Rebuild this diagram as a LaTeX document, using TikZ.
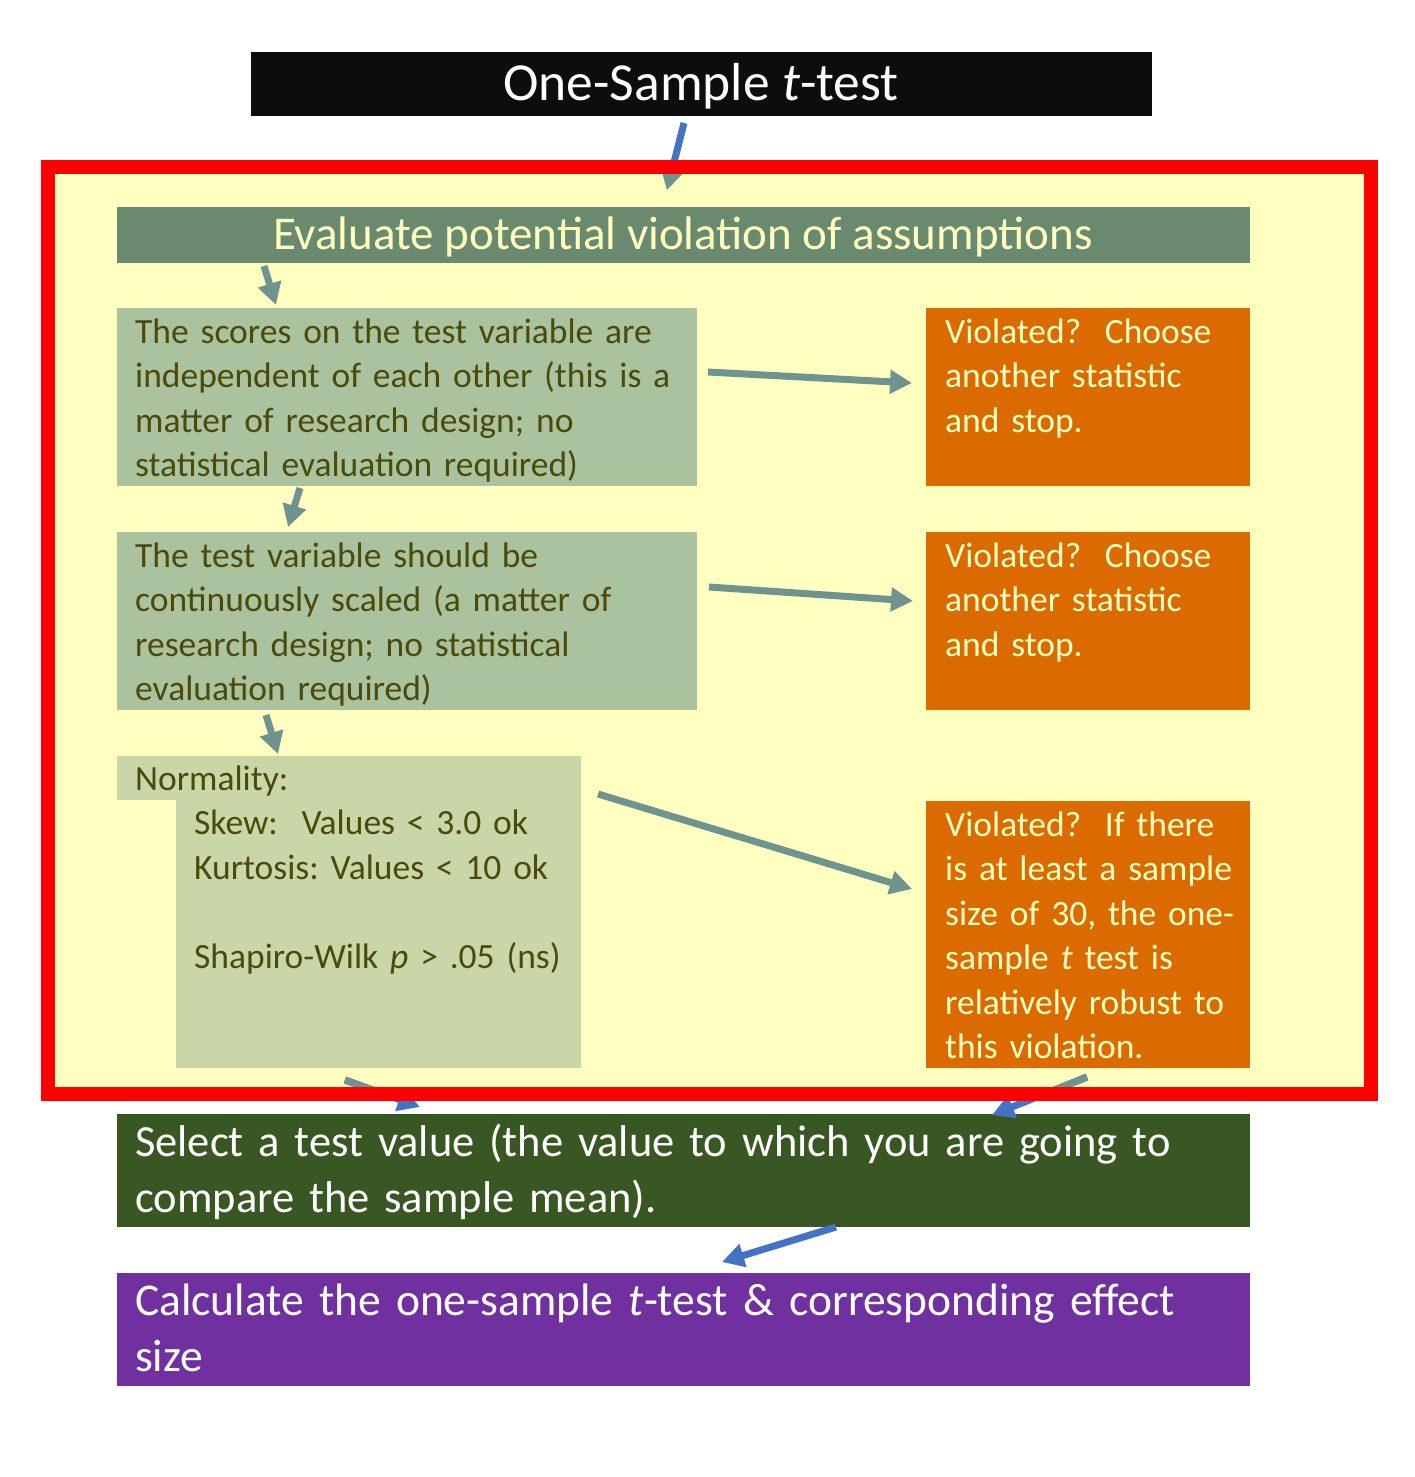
\documentclass[tikz,border=0pt]{standalone}
\usepackage{fontspec}
\setmainfont{Carlito}
\usetikzlibrary{arrows.meta}
\definecolor{cblack}{HTML}{0D0D0D}
\definecolor{cred}{HTML}{FF0000}
\definecolor{cyel}{HTML}{FFFFC0}
\definecolor{chead}{HTML}{698A6E}
\definecolor{cbox}{HTML}{ABC29F}
\definecolor{cnorm}{HTML}{C9D6A8}
\definecolor{ctext}{HTML}{4A4A0A}
\definecolor{corange}{HTML}{DB6B00}
\definecolor{cgray}{HTML}{6F9490}
\definecolor{cblue}{HTML}{4472C4}
\definecolor{cgreen}{HTML}{385723}
\definecolor{cpurple}{HTML}{7030A0}
\newcommand{\bodyfont}{\fontsize{35.5}{44.5}\selectfont\frenchspacing}
\newcommand{\selfont}{\fontsize{44.5}{56}\selectfont\frenchspacing}
\newcommand{\calcfont}{\fontsize{45.5}{56}\selectfont\frenchspacing}
\tikzset{
  panel/.style={draw=none, inner sep=0pt, anchor=north west},
  txt/.style={inner sep=0pt, anchor=base west, align=left, text width=#1},
  body/.style={font=\bodyfont},
  conn/.style={line width=7pt, -{Triangle[width=23pt,length=22pt]}},
}
\newcommand{\twoarrow}[2]{%
  \draw[conn, cblue] (#1) -- (#2);
  \begin{scope}
    \clip (55,174) rectangle (1364,1087);
    \draw[conn, cgray] (#1) -- (#2);
  \end{scope}}
\begin{document}
\begin{tikzpicture}[x=1pt, y=-1pt]
\useasboundingbox[fill=white] (0,0) rectangle (1415,1477);
% yellow region
\fill[cyel] (48,167) rectangle (1371,1094);
% boxes
\node[panel, fill=cblack, minimum width=901pt, minimum height=64pt] (title) at (251,52) {};
\node[panel, fill=chead, minimum width=1133pt, minimum height=56pt] (head) at (117,207) {};
\node[panel, fill=cbox, minimum width=580pt, minimum height=178pt] (b1) at (117,308) {};
\node[panel, fill=cbox, minimum width=580pt, minimum height=178pt] (b2) at (117,532) {};
\node[panel, fill=cnorm, minimum width=464pt, minimum height=44pt] (ntab) at (117,756) {};
\node[panel, fill=cnorm, minimum width=405pt, minimum height=268pt] (nbody) at (176,800) {};
\node[panel, fill=corange, minimum width=324pt, minimum height=178pt] (o1) at (926,308) {};
\node[panel, fill=corange, minimum width=324pt, minimum height=178pt] (o2) at (926,532) {};
\node[panel, fill=corange, minimum width=324pt, minimum height=267pt] (o3) at (926,801) {};
\node[panel, fill=cgreen, minimum width=1133pt, minimum height=113pt] (sel) at (117,1114) {};
\node[panel, fill=cpurple, minimum width=1133pt, minimum height=113pt] (calc) at (117,1273) {};
% texts
\node[inner sep=0pt, anchor=base, text=white, font=\fontsize{53.5}{60}\selectfont] (titlet) at (701,101) {One-Sample \textit{t}-test};
\node[inner sep=0pt, anchor=base, text=cyel, font=\fontsize{47}{54}\selectfont] (headt) at (683,249) {Evaluate potential violation of assumptions};
\node[txt=560pt, body, text=ctext] (b1t) at (135,343) {The scores on the test variable are\\independent of each other (this is a\\matter of research design; no\\statistical evaluation required)};
\node[txt=560pt, body, text=ctext] (b2t) at (135,567) {The test variable should be\\continuously scaled (a matter of\\research design; no statistical\\evaluation required)};
\node[txt=560pt, body, text=ctext] (nt) at (135,790) {Normality:\\\hspace*{59pt}Skew:~ Values < 3.0 ok\\\hspace*{59pt}Kurtosis: Values < 10 ok\\[44.5pt]\hspace*{59pt}Shapiro-Wilk \textit{p} > .05 (ns)};
\node[txt=320pt, body, text=cyel] (o1t) at (945,343) {Violated?~ Choose\\another statistic\\and stop.};
\node[txt=320pt, body, text=cyel] (o2t) at (945,567) {Violated?~ Choose\\another statistic\\and stop.};
\node[txt=320pt, body, text=cyel] (o3t) at (945,836) {Violated?~ If there\\is at least a sample\\size of 30, the one-\\sample \textit{t} test is\\relatively robust to\\this violation.};
\node[txt=1125pt, font=\selfont, text=white] (selt) at (135,1156) {Select a test value (the value to which you are going to\\compare the sample mean).};
\node[txt=1125pt, font=\calcfont, text=white] (calct) at (135,1315) {Calculate the one-sample \textit{t}-test \& corresponding effect\\size};
% connector end points
\coordinate (a1s) at (684,123); \coordinate (a1e) at (667,190);
\coordinate (a2s) at (264,266); \coordinate (a2e) at (276,305);
\coordinate (a3s) at (300,488); \coordinate (a3e) at (288,527);
\coordinate (a4s) at (266,715); \coordinate (a4e) at (278,754);
\coordinate (a5s) at (708,372); \coordinate (a5e) at (912,383);
\coordinate (a6s) at (709,587); \coordinate (a6e) at (913,601);
\coordinate (a7s) at (598,794); \coordinate (a7e) at (912,889);
\coordinate (a8s) at (345,1080); \coordinate (a8e) at (420,1107);
\coordinate (a9s) at (1087,1077); \coordinate (a9e) at (992,1115);
\coordinate (a10s) at (836,1227); \coordinate (a10e) at (722,1262);
\twoarrow{a1s}{a1e}
\draw[conn, cgray] (a2s) -- (a2e);
\draw[conn, cgray] (a3s) -- (a3e);
\draw[conn, cgray] (a4s) -- (a4e);
\draw[conn, cgray] (a5s) -- (a5e);
\draw[conn, cgray] (a6s) -- (a6e);
\draw[conn, cgray] (a7s) -- (a7e);
\twoarrow{a8s}{a8e}
\twoarrow{a9s}{a9e}
\draw[conn, cblue] (a10s) -- (a10e);
% red frame
\draw[cred, line width=14pt] (48,167) rectangle (1371,1094);
\end{tikzpicture}
\end{document}
